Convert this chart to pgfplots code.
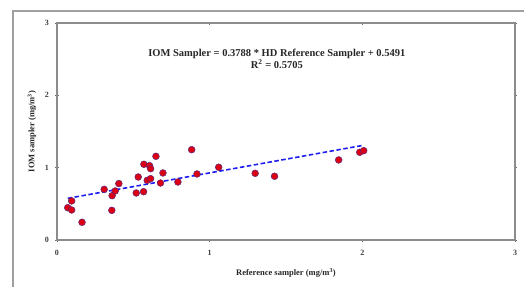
\documentclass[border=0pt]{standalone}
\usepackage{fontspec}
\setmainfont{Liberation Serif}
\usepackage{pgfplots}
\pgfplotsset{compat=1.18}
\definecolor{framegray}{RGB}{160,160,160}
\definecolor{axgray}{RGB}{140,140,140}
\definecolor{ptred}{RGB}{220,0,20}
\definecolor{ptedge}{RGB}{90,40,120}
\definecolor{trendblue}{RGB}{30,30,240}
\begin{document}
\begin{tikzpicture}[x=1pt,y=1pt]
\path[use as bounding box] (0,0) rectangle (524,287);
\draw[framegray, line width=1.5pt] (13,0) -- (13,276) -- (524,276);
\begin{axis}[
  at={(57pt,47pt)}, anchor=south west,
  width=458pt, height=217pt, scale only axis,
  xmin=0, xmax=3, ymin=0, ymax=3,
  xtick={0,1,2,3}, ytick={0,1,2,3},
  axis line style={axgray, line width=1.3pt},
  tick style={black!60, line width=0.5pt},
  major tick length=3pt, tick align=center,
  /pgf/number format/assume math mode=true,
  ticklabel style={font=\fontsize{8}{9}\selectfont\bfseries, text=black!75},
  xticklabel style={yshift=-5pt},
  yticklabel style={xshift=-3pt},
  xlabel={Reference sampler (mg/m\textsuperscript{3})},
  ylabel={IOM sampler (mg/m\textsuperscript{3})},
  label style={font=\fontsize{8.5}{9.5}\selectfont\bfseries, text=black!85},
  xlabel style={at={(axis description cs:0.5,0)}, anchor=center, yshift=-33pt},
  ylabel style={at={(axis description cs:0,0.5)}, anchor=center, yshift=25pt},
  clip=false,
]
\addplot[trendblue, line width=1.6pt, dash pattern=on 4.5pt off 2.5pt, forget plot]
  coordinates {(0.07,0.5756) (2.01,1.3105)};
\addplot[only marks, mark=*, mark size=3.4pt,
  mark options={fill=ptred, draw=ptedge, line width=0.5pt}]
  coordinates {
  (0.070,0.447) (0.096,0.415) (0.096,0.540) (0.164,0.245)
  (0.309,0.700) (0.361,0.613) (0.359,0.410) (0.381,0.678)
  (0.405,0.780) (0.519,0.650) (0.532,0.871) (0.567,0.668)
  (0.569,1.047) (0.591,0.825) (0.606,1.028) (0.613,0.986)
  (0.613,0.848) (0.648,1.157) (0.678,0.788) (0.694,0.927)
  (0.792,0.802) (0.882,1.249) (0.917,0.913) (1.059,1.006)
  (1.298,0.922) (1.425,0.881) (1.845,1.107) (1.983,1.213)
  (2.009,1.235)
  };
\node[font=\fontsize{10.5}{12}\selectfont\bfseries, align=center, text=black!85]
  at (axis cs:1.44,2.51) {IOM Sampler = 0.3788 * HD Reference Sampler + 0.5491\\R\textsuperscript{2} = 0.5705};
\end{axis}
\end{tikzpicture}
\end{document}
